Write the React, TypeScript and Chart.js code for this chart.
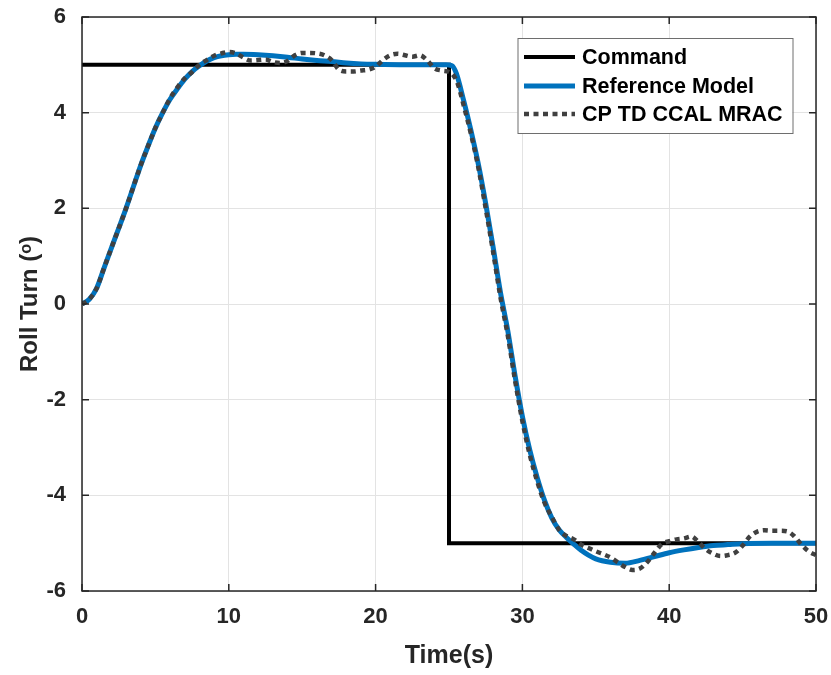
import React, { useEffect, useRef } from "react";
import { Chart, registerables } from "chart.js";

Chart.register(...registerables);

// ---- Data ----
const commandTime = [0, 25, 25, 50];
const commandValues = [5, 5, -5, -5];

const refTime = [
  0, 0.5, 1, 1.5, 2, 2.5, 3, 3.5, 4, 4.5, 5, 5.5, 6, 6.5, 7, 7.5, 8, 8.5, 9, 9.5,
  10, 10.5, 11, 12, 13, 14, 15, 16, 17, 18, 19, 20, 22, 24, 24.8, 25.2, 25.5, 26,
  26.5, 27, 27.5, 28, 28.5, 29, 29.5, 30, 30.5, 31, 31.5, 32, 32.5, 33, 33.5, 34,
  34.5, 35, 36, 37, 38, 39, 40, 41, 42, 43, 44, 45, 47, 50,
];
const refValues = [
  0, 0.1, 0.33, 0.75, 1.17, 1.58, 2.0, 2.45, 2.9, 3.3, 3.68, 4.0, 4.28, 4.5, 4.7,
  4.86, 4.98, 5.08, 5.15, 5.19, 5.21, 5.22, 5.22, 5.21, 5.19, 5.16, 5.12, 5.09,
  5.07, 5.04, 5.02, 5.01, 5.0, 5.0, 5.0, 4.98, 4.82, 4.25, 3.62, 2.92, 2.1, 1.2,
  0.25, -0.55, -1.5, -2.35, -3.05, -3.62, -4.1, -4.47, -4.72, -4.88, -5.02, -5.15,
  -5.25, -5.33, -5.4, -5.42, -5.36, -5.28, -5.2, -5.14, -5.09, -5.05, -5.03,
  -5.01, -5.0, -5.0,
];

const ctrlTime = [
  0, 0.5, 1, 1.5, 2, 2.5, 3, 3.5, 4, 4.5, 5, 5.5, 6, 6.5, 7, 7.5, 8, 8.5, 9, 9.5,
  10, 10.5, 11, 11.5, 12, 12.5, 13, 13.5, 14, 14.5, 15, 15.5, 16, 16.5, 17, 17.5,
  18, 18.5, 19, 19.5, 20, 20.5, 21, 21.5, 22, 22.5, 23, 23.5, 24, 24.5, 25, 25.3,
  25.6, 26, 26.5, 27, 27.5, 28, 28.5, 29, 29.5, 30, 30.5, 31, 31.5, 32, 32.5, 33,
  33.5, 34, 34.5, 35, 35.5, 36, 36.5, 37, 37.5, 38, 38.5, 39, 39.5, 40, 40.5, 41,
  41.5, 42, 42.5, 43, 43.5, 44, 44.5, 45, 45.5, 46, 46.5, 47, 47.5, 48, 48.5, 49,
  49.5, 50,
];
const ctrlValues = [
  0, 0.1, 0.33, 0.75, 1.17, 1.58, 2.0, 2.45, 2.9, 3.3, 3.68, 4.0, 4.3, 4.53, 4.72,
  4.85, 5.0, 5.1, 5.19, 5.24, 5.27, 5.24, 5.15, 5.09, 5.1, 5.11, 5.06, 5.04, 5.08,
  5.2, 5.25, 5.25, 5.24, 5.2, 5.1, 4.9, 4.86, 4.86, 4.88, 4.9, 4.96, 5.1, 5.2,
  5.23, 5.2, 5.17, 5.2, 5.1, 4.93, 4.88, 4.85, 4.78, 4.6, 4.15, 3.55, 2.85, 2.0,
  1.1, 0.15, -0.65, -1.6, -2.45, -3.15, -3.7, -4.15, -4.45, -4.72, -4.85, -4.92,
  -5.03, -5.1, -5.17, -5.23, -5.3, -5.4, -5.5, -5.56, -5.53, -5.4, -5.2, -5.02,
  -4.96, -4.92, -4.9, -4.86, -4.98, -5.13, -5.22, -5.27, -5.25, -5.2, -5.05,
  -4.86, -4.76, -4.73, -4.74, -4.74, -4.75, -4.85, -5.03, -5.17, -5.25,
];

const seriesLabels = ["Command", "Reference Model", "CP TD CCAL MRAC"];
const xTitle = "Time(s)";
const yTitle = "Roll Turn (\u1D52)";

const FONT = "'Liberation Sans', Arial, Helvetica, sans-serif";
const TEXT = "#262626";

const toPoints = (xs: number[], ys: number[]) => xs.map((x, i) => ({ x, y: ys[i] }));

const zeroPad = (s: any) => {
  s.paddingTop = 0;
  s.paddingBottom = 0;
  s.paddingLeft = 0;
  s.paddingRight = 0;
};

const framePlugin = {
  id: "matlabFrame",
  afterDraw(chart: any) {
    const { ctx, chartArea: a, scales } = chart;
    ctx.save();
    ctx.strokeStyle = TEXT;
    ctx.lineWidth = 1.5;
    const tl = 7;
    ctx.beginPath();
    scales.x.ticks.forEach((t: any) => {
      const px = scales.x.getPixelForValue(t.value);
      ctx.moveTo(px, a.top);
      ctx.lineTo(px, a.top + tl);
      ctx.moveTo(px, a.bottom);
      ctx.lineTo(px, a.bottom - tl);
    });
    scales.y.ticks.forEach((t: any) => {
      const py = scales.y.getPixelForValue(t.value);
      ctx.moveTo(a.left, py);
      ctx.lineTo(a.left + tl, py);
      ctx.moveTo(a.right, py);
      ctx.lineTo(a.right - tl, py);
    });
    ctx.stroke();
    ctx.strokeRect(a.left, a.top, a.right - a.left, a.bottom - a.top);

    // legend box
    const bw = 275;
    const bh = 95;
    const bx = a.right - 23.5 - bw;
    const by = a.top + 21;
    ctx.fillStyle = "#ffffff";
    ctx.fillRect(bx, by, bw, bh);
    ctx.strokeStyle = "#6e6e6e";
    ctx.lineWidth = 1;
    ctx.strokeRect(bx + 0.5, by + 0.5, bw, bh);
    const rows = [19, 48, 76];
    ctx.font = `bold 21.5px ${FONT}`;
    ctx.textBaseline = "middle";
    ctx.textAlign = "left";
    chart.data.datasets.forEach((ds: any, i: number) => {
      const yy = by + rows[i];
      ctx.save();
      ctx.strokeStyle = ds.borderColor;
      ctx.lineWidth = ds.borderWidth;
      ctx.setLineDash(ds.borderDash || []);
      ctx.lineCap = "butt";
      ctx.beginPath();
      ctx.moveTo(bx + 6.5, yy);
      ctx.lineTo(bx + 57.5, yy);
      ctx.stroke();
      ctx.restore();
      ctx.fillStyle = "#000000";
      ctx.fillText(ds.label, bx + 64.5, yy + 1);
    });
    ctx.restore();
  },
};

export default function App() {
  const canvasRef = useRef<HTMLCanvasElement | null>(null);

  useEffect(() => {
    if (!canvasRef.current) return;
    const chart = new Chart(canvasRef.current, {
      type: "line",
      data: {
        datasets: [
          {
            label: seriesLabels[0],
            data: toPoints(commandTime, commandValues),
            borderColor: "#000000",
            borderWidth: 4,
            pointRadius: 0,
            tension: 0,
            order: 3,
          },
          {
            label: seriesLabels[1],
            data: toPoints(refTime, refValues),
            borderColor: "#0072BD",
            borderWidth: 5,
            pointRadius: 0,
            cubicInterpolationMode: "monotone",
            order: 2,
          },
          {
            label: seriesLabels[2],
            data: toPoints(ctrlTime, ctrlValues),
            borderColor: "#404040",
            borderWidth: 4.5,
            borderDash: [5, 4.5],
            pointRadius: 0,
            cubicInterpolationMode: "monotone",
            order: 1,
          },
        ] as any,
      },
      options: {
        responsive: false,
        animation: false,
        layout: { padding: { left: 0, right: 15, top: 17, bottom: 0 } },
        plugins: {
          legend: { display: false },
          tooltip: { enabled: false },
        },
        scales: {
          x: {
            type: "linear",
            min: 0,
            max: 50,
            border: { display: false },
            grid: { color: "#e3e3e3", lineWidth: 1, drawTicks: false },
            ticks: {
              stepSize: 10,
              padding: 13,
              color: TEXT,
              font: { family: FONT, size: 22, weight: "bold" },
              maxRotation: 0,
            },
            title: {
              display: true,
              text: xTitle,
              color: TEXT,
              font: { family: FONT, size: 25, weight: "bold" },
              padding: { top: 0, bottom: 4 },
            },
            afterFit: (s: any) => {
              s.height = 84;
              zeroPad(s);
            },
          },
          y: {
            type: "linear",
            min: -6,
            max: 6,
            border: { display: false },
            grid: { color: "#e3e3e3", lineWidth: 1, drawTicks: false },
            ticks: {
              stepSize: 2,
              padding: 16,
              color: TEXT,
              font: { family: FONT, size: 22, weight: "bold" },
            },
            title: {
              display: true,
              text: yTitle,
              color: TEXT,
              font: { family: FONT, size: 24, weight: "bold" },
              padding: { top: 16, bottom: 0 },
            },
            afterFit: (s: any) => {
              s.width = 82;
              zeroPad(s);
            },
          },
        },
      } as any,
      plugins: [framePlugin],
    });
    return () => chart.destroy();
  }, []);

  return (
    <div style={{ position: "absolute", left: 0, top: 0, width: 831, height: 675, background: "#fff" }}>
      <canvas ref={canvasRef} width={831} height={675} />
    </div>
  );
}
